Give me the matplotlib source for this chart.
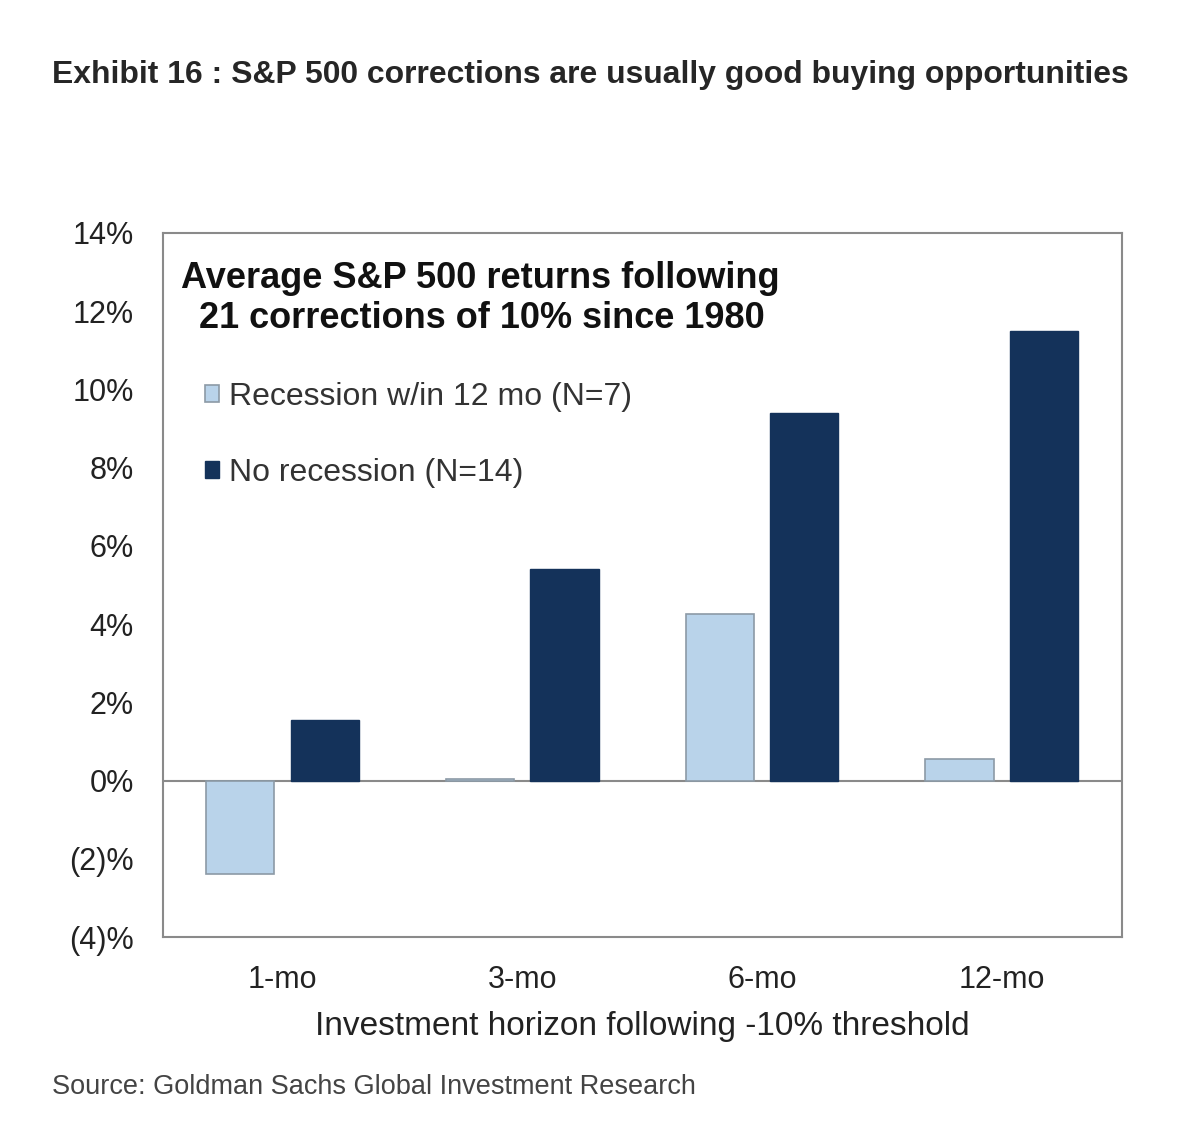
import matplotlib.pyplot as plt
import numpy as np
from matplotlib import font_manager
from matplotlib.ticker import FuncFormatter

horizons = ['1-mo', '3-mo', '6-mo', '12-mo']
recession = [-2.4, 0.05, 4.25, 0.55]
no_recession = [1.55, 5.4, 9.4, 11.5]
labels = ['Recession w/in 12 mo (N=7)', 'No recession (N=14)']

light = '#b9d3ea'
dark = '#14325a'

plt.rcParams['font.family'] = ['Liberation Sans', 'DejaVu Sans']

installed = {f.name for f in font_manager.fontManager.ttflist}
narrow = 'Liberation Sans Narrow' if 'Liberation Sans Narrow' in installed else 'Liberation Sans'

W, H = 1200, 1132
fig = plt.figure(figsize=(12, 11.32), dpi=100)
ax = fig.add_axes([163 / W, 1 - 937 / H, (1122 - 163) / W, (937 - 233) / H])

x = np.arange(len(horizons))
w = 0.285
b1 = ax.bar(x - 0.178, recession, w, color=light, edgecolor='#8c9aa6', linewidth=1.2, label=labels[0])
b2 = ax.bar(x + 0.175, no_recession, w, color=dark, edgecolor=dark, linewidth=1, label=labels[1])

ax.axhline(0, color='#8a8a8a', lw=1.5, zorder=0)
ax.set_xlim(-0.5, 3.5)
ax.set_ylim(-4, 14)
ax.set_yticks(range(-4, 15, 2))
ax.yaxis.set_major_formatter(FuncFormatter(lambda v, p: f'({abs(int(v))})%' if v < 0 else f'{int(v)}%'))
ax.set_xticks(x)
ax.set_xticklabels(horizons)
ax.tick_params(axis='both', length=0, labelsize=22, colors='#222222')
ax.tick_params(axis='x', pad=20)
ax.tick_params(axis='y', pad=21)
for s in ax.spines.values():
    s.set_color('#8a8a8a')
    s.set_linewidth(1.5)

ax.set_xlabel('Investment horizon following -10% threshold', fontsize=24, color='#222222', labelpad=12)

title = fig.text(52 / W, 1 - 75 / H, 'Exhibit 16 : S&P 500 corrections are usually good buying opportunities',
                 fontsize=30, fontweight='bold', family=narrow,
                 color='#262626', va='center', ha='left')

fig.text(181 / W, 1 - 278 / H, 'Average S&P 500 returns following', fontsize=26, fontweight='bold',
         color='#111111', va='center', ha='left')
fig.text(199 / W, 1 - 319 / H, '21 corrections of 10% since 1980', fontsize=26, fontweight='bold',
         color='#111111', va='center', ha='left')

fig.legend(handles=[b1, b2], labels=labels, loc='upper left', bbox_to_anchor=(176 / W, 1 - 353 / H),
           frameon=False, fontsize=23, handlelength=0.45, handleheight=0.45, handletextpad=0.3,
           labelspacing=1.45, labelcolor='#333333')

source = fig.text(52 / W, 1 - 1087 / H, 'Source: Goldman Sachs Global Investment Research', fontsize=22,
                  family=narrow, color='#444444', va='center', ha='left')

# shrink the condensed-style texts so they span the same width as in the reference
fig.canvas.draw()
r = fig.canvas.get_renderer()
for t, target in [(title, 1130 - 52), (source, 694 - 52)]:
    wpx = t.get_window_extent(r).width
    if wpx > target:
        t.set_fontsize(t.get_fontsize() * target / wpx)

fig.savefig('out.png', dpi=100, facecolor='white')
